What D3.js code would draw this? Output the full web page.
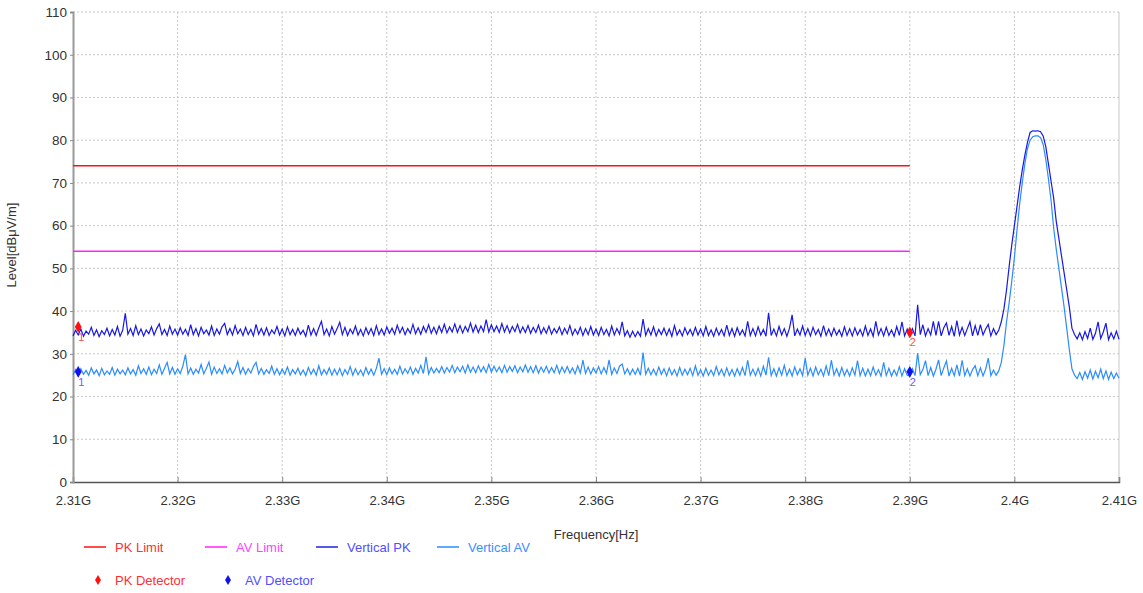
<!DOCTYPE html>
<html>
<head>
<meta charset="utf-8">
<script src="https://cdn.jsdelivr.net/npm/d3@7"></script>
<style>
  body { margin: 0; background: #fff; }
  svg text { font-family: "Liberation Sans", Arial, sans-serif; }
</style>
</head>
<body>
<svg width="1143" height="593"></svg>
<script>
// sweep: 2.31 GHz .. 2.41 GHz, 0.25 MHz per point
var freqStart = 2.31e9, freqStep = 0.25e6;

var xTicks = [2.31e9, 2.32e9, 2.33e9, 2.34e9, 2.35e9, 2.36e9, 2.37e9, 2.38e9, 2.39e9, 2.40e9, 2.41e9];
var xTickLabels = ["2.31G", "2.32G", "2.33G", "2.34G", "2.35G", "2.36G", "2.37G", "2.38G", "2.39G", "2.4G", "2.41G"];
var yTicks = [0, 10, 20, 30, 40, 50, 60, 70, 80, 90, 100, 110];

// limit lines
var pkLimit = [[2.31e9, 74], [2.39e9, 74]];
var avLimit = [[2.31e9, 54], [2.39e9, 54]];

// Vertical PK trace (dBuV/m)
var verticalPK = [
  34.2,35.5,34.4,35.8,34.1,35.3,34.6,36.2,34.3,35.6,34.0,35.4,34.5,36.0,34.2,35.7,34.4,36.4,34.1,35.5,
  39.5,34.6,35.9,34.3,36.6,34.5,35.8,34.2,35.6,34.7,36.3,34.4,35.9,37.0,34.5,35.7,34.3,36.5,34.6,35.8,
  34.4,36.1,34.6,35.7,34.3,36.8,34.5,35.9,34.2,36.2,34.7,35.6,34.4,36.5,34.3,35.8,34.6,36.3,37.1,34.5,
  35.9,34.4,36.6,34.7,35.8,34.3,36.2,34.5,35.7,34.2,36.9,34.6,35.9,34.4,36.1,34.3,35.6,34.7,36.4,34.4,
  35.8,34.2,36.3,34.5,35.7,34.3,36.0,34.6,35.5,34.1,36.7,34.4,35.9,34.3,36.1,37.6,34.5,35.8,34.2,36.4,
  34.6,35.9,37.4,34.5,36.2,34.3,35.8,34.7,36.5,34.4,35.7,34.2,36.1,34.6,35.9,34.3,36.6,34.5,35.8,34.4,
  36.3,34.8,36.0,34.6,36.7,34.9,36.2,34.5,35.9,34.8,36.9,34.7,36.1,34.6,36.4,35.0,36.8,34.8,36.2,34.7,
  36.5,35.0,36.9,34.9,36.3,35.1,37.0,35.0,36.6,34.9,36.4,35.2,37.2,35.1,36.7,35.0,36.5,35.2,38.0,35.1,
  36.8,35.2,36.5,35.0,37.1,35.1,36.6,34.9,36.4,35.2,36.9,34.9,36.3,35.0,36.6,34.8,36.2,35.0,36.7,34.7,
  36.1,34.8,36.5,34.6,35.9,34.9,36.3,34.5,36.0,34.7,36.6,34.4,35.8,34.6,36.2,34.3,35.9,34.5,36.4,34.4,
  35.8,34.3,36.2,34.5,35.7,34.2,36.5,34.4,35.9,34.6,37.5,34.2,35.4,33.9,35.3,34.0,35.2,34.1,38.1,34.3,
  35.9,34.4,36.3,34.2,35.7,34.5,36.0,34.3,35.8,34.1,36.6,34.4,35.6,34.2,36.1,34.5,35.7,34.3,36.2,34.4,
  35.8,34.2,36.4,34.3,35.6,34.1,36.0,34.4,35.7,34.2,36.7,34.3,35.9,34.1,36.1,34.4,35.6,34.2,37.6,34.3,
  35.9,34.2,36.3,34.4,35.7,34.1,39.6,34.3,35.8,34.2,36.4,34.4,35.9,34.1,36.0,39.1,34.2,35.8,34.4,36.5,
  34.3,35.9,34.2,36.2,34.5,35.7,34.1,36.6,34.3,35.8,34.2,36.0,34.4,35.6,34.1,36.3,34.3,35.9,34.2,36.1,
  34.4,35.7,34.2,36.5,34.3,35.8,34.1,37.6,34.4,35.9,34.2,36.2,34.3,35.6,34.1,36.4,34.3,37.5,34.2,35.8,
  34.3,35.9,34.2,41.5,34.5,36.8,34.2,35.9,34.4,37.6,34.3,37.6,34.2,36.1,37.2,34.3,36.4,34.1,37.8,34.4,
  36.2,34.3,35.9,37.5,34.2,36.6,34.3,36.8,34.4,35.8,36.9,34.2,35.9,34.5,
  35.5,37.5,40.5,45.0,50.5,55.5,60.0,64.5,69.0,73.0,76.5,79.5,81.8,82.2,82.1,82.2,82.0,81.0,78.5,74.5,
  70.5,66.5,61.0,57.0,53.0,49.0,45.0,41.0,36.0,34.5,
  33.5,34.9,33.3,35.2,33.6,36.0,33.4,34.8,37.5,33.6,35.1,37.2,33.3,34.9,33.5,35.3,33.4
];

// Vertical AV trace (dBuV/m)
var verticalAV = [
  25.1,26.3,24.9,26.5,25.2,26.1,25.0,26.7,25.3,26.2,24.9,26.6,25.1,26.0,25.2,26.8,25.0,26.4,25.3,26.2,
  25.1,26.7,25.3,26.3,25.0,27.2,25.4,26.5,25.2,26.9,25.1,26.4,25.4,27.4,25.2,26.6,28.0,25.3,26.8,25.2,
  26.5,25.4,27.1,29.8,25.3,26.7,25.2,26.4,25.5,27.5,25.3,26.6,28.1,25.2,26.9,25.4,26.5,25.3,27.3,25.5,
  26.7,25.3,26.4,28.2,25.4,26.8,25.2,26.5,25.5,27.0,28.0,25.3,26.6,25.2,26.3,25.4,27.1,25.2,26.5,25.1,
  26.4,25.2,26.9,25.0,26.3,25.3,26.6,25.1,26.2,24.9,26.8,25.2,26.4,25.0,27.2,25.1,26.3,25.2,26.7,25.0,
  26.4,25.1,26.6,24.9,26.3,25.2,27.0,25.0,26.5,25.1,26.2,24.9,26.8,25.2,26.4,25.0,26.6,29.0,25.2,26.5,
  25.1,26.7,25.3,26.4,25.2,27.1,25.3,26.5,25.4,26.9,25.2,26.6,25.5,27.3,25.4,29.3,25.3,26.8,25.5,26.6,
  25.6,27.0,25.5,26.8,25.7,27.3,25.6,26.9,25.8,27.1,25.5,27.4,25.7,26.9,25.6,27.2,25.8,27.0,25.6,27.5,
  25.7,27.1,25.8,26.9,25.6,27.3,25.7,27.0,25.9,27.2,25.6,26.9,25.8,27.4,25.7,27.0,25.6,27.2,25.5,26.9,
  25.7,27.1,25.5,26.8,25.6,27.3,25.4,26.9,25.6,27.0,25.5,26.7,25.3,27.2,25.5,28.5,25.4,26.9,25.3,26.7,
  25.5,27.0,25.3,26.8,25.4,28.6,25.2,26.7,25.4,27.1,27.6,25.3,26.5,25.1,26.4,25.2,26.6,25.0,30.3,25.2,
  26.6,25.1,26.4,25.0,26.9,25.2,26.5,24.9,26.7,25.1,26.3,24.8,26.8,25.0,26.4,25.1,26.6,24.9,27.2,25.0,
  26.3,24.8,26.6,25.0,26.2,24.9,27.0,25.1,26.4,24.8,26.7,24.9,26.3,24.8,26.5,25.0,26.8,24.9,28.5,25.0,
  26.4,24.9,26.6,24.8,27.1,25.0,29.2,24.9,26.5,24.8,26.7,25.0,27.3,24.9,26.4,24.8,26.9,25.1,26.5,24.9,
  29.0,25.0,26.6,24.8,26.9,25.1,26.4,24.8,27.2,24.9,28.5,25.0,26.5,24.8,26.8,24.9,26.3,24.8,26.7,25.0,
  28.4,24.9,26.6,24.8,26.4,24.9,26.9,25.0,26.3,24.8,28.0,24.9,26.6,24.8,26.2,24.9,27.0,24.8,26.5,25.0,
  24.8,26.5,24.9,30.2,25.1,26.3,28.4,24.9,26.8,24.8,26.4,28.6,24.9,26.7,28.3,24.8,26.6,24.9,27.4,24.8,
  28.5,24.9,26.5,24.8,26.3,27.2,24.9,26.7,24.8,26.4,29.0,24.9,26.2,25.0,
  26.0,28.0,32.0,37.5,42.0,47.0,52.5,59.0,65.0,70.0,74.5,78.0,80.0,80.8,81.0,81.0,80.6,79.0,75.5,71.0,
  66.0,59.5,54.5,50.0,45.5,41.0,36.0,31.0,26.5,25.0,
  24.2,25.6,24.0,25.8,24.3,26.2,24.1,25.9,24.4,26.4,24.2,26.0,24.0,25.7,24.2,25.5,24.3
];

// detector markers
var pkMarkers = [{id: "1", f: 2.3105e9, v: 36.3}, {id: "2", f: 2.39e9, v: 35.0}];
var avMarkers = [{id: "1", f: 2.3105e9, v: 25.8}, {id: "2", f: 2.39e9, v: 25.8}];

var svg = d3.select("svg"),
    margin = {top: 12, left: 73, right: 24, bottom: 111},
    width = +svg.attr("width") - margin.left - margin.right,
    height = +svg.attr("height") - margin.top - margin.bottom;

var x = d3.scaleLinear().domain([2.31e9, 2.41e9]).range([0, width]);
var y = d3.scaleLinear().domain([0, 110]).range([height, 0]);

var g = svg.append("g").attr("transform", "translate(" + margin.left + "," + margin.top + ")");

// grid
g.append("g").selectAll("line")
    .data(yTicks.slice(1))
    .enter().append("line")
    .attr("x1", 0).attr("x2", width)
    .attr("y1", function(d) { return y(d); }).attr("y2", function(d) { return y(d); })
    .attr("stroke", "#c8c8c8").attr("stroke-dasharray", "2,2");
g.append("g").selectAll("line")
    .data(xTicks.slice(1, -1))
    .enter().append("line")
    .attr("x1", function(d) { return x(d); }).attr("x2", function(d) { return x(d); })
    .attr("y1", 0).attr("y2", height)
    .attr("stroke", "#c8c8c8").attr("stroke-dasharray", "2,2");
g.append("line")
    .attr("x1", width).attr("x2", width).attr("y1", 0).attr("y2", height)
    .attr("stroke", "#c8c8c8");

// axes
var xAxis = d3.axisBottom(x).tickValues(xTicks)
    .tickFormat(function(d, i) { return xTickLabels[i]; })
    .tickSize(-5).tickPadding(14);
var yAxis = d3.axisLeft(y).tickValues(yTicks).tickSize(3).tickPadding(3);

var gx = g.append("g").attr("transform", "translate(0," + height + ")").call(xAxis);
gx.select(".domain").attr("stroke", "#555").attr("stroke-width", 1.5);
gx.selectAll(".tick line").attr("stroke", "#888");
gx.selectAll("text").attr("fill", "#333").style("font-size", "13px");

var gy = g.append("g").call(yAxis);
gy.select(".domain").attr("stroke", "#999").attr("stroke-width", 2);
gy.selectAll(".tick line").attr("stroke", "#888");
gy.selectAll("text").attr("fill", "#333").style("font-size", "13.5px");

// axis titles
svg.append("text")
    .attr("transform", "translate(16," + (margin.top + height / 2 - 2) + ") rotate(-90)")
    .attr("text-anchor", "middle")
    .attr("fill", "#333").style("font-size", "13px")
    .text("Level[dBμV/m]");
svg.append("text")
    .attr("x", 596).attr("y", 539)
    .attr("text-anchor", "middle")
    .attr("fill", "#333").style("font-size", "13px")
    .text("Frequency[Hz]");

// lines
var limitLine = d3.line()
    .x(function(d) { return x(d[0]); })
    .y(function(d) { return y(d[1]); });
var traceLine = d3.line()
    .x(function(d, i) { return x(freqStart + i * freqStep); })
    .y(function(d) { return y(d); });

var plot = g.append("g");
plot.append("path").datum(avLimit).attr("d", limitLine)
    .attr("fill", "none").attr("stroke", "#ff22ff").attr("stroke-width", 1.5);
plot.append("path").datum(pkLimit).attr("d", limitLine)
    .attr("fill", "none").attr("stroke", "#ff1010").attr("stroke-width", 1.5);
plot.append("path").datum(verticalAV).attr("d", traceLine)
    .attr("fill", "none").attr("stroke", "#2a8cff").attr("stroke-width", 1.2);
plot.append("path").datum(verticalPK).attr("d", traceLine)
    .attr("fill", "none").attr("stroke", "#1818e6").attr("stroke-width", 1.2);

// markers
var diamond = d3.symbol().type(d3.symbolDiamond).size(40);
function drawMarkers(data, color, labelColor) {
  var m = plot.selectAll(null).data(data).enter().append("g")
      .attr("transform", function(d) { return "translate(" + x(d.f) + "," + y(d.v) + ")"; });
  m.append("path").attr("d", diamond).attr("fill", color);
  m.append("text").attr("x", 0).attr("y", 14)
      .attr("fill", labelColor).style("font-size", "11px")
      .text(function(d) { return d.id; });
}
drawMarkers(pkMarkers, "#ff1010", "#ff5050");
drawMarkers(avMarkers, "#1010f0", "#6a5cff");

// legend
var legendLines = [
  {name: "PK Limit", color: "#ff1010", text: "#ff3030", x: 84},
  {name: "AV Limit", color: "#ff22ff", text: "#ff44ff", x: 205},
  {name: "Vertical PK", color: "#2020e0", text: "#5050ff", x: 316},
  {name: "Vertical AV", color: "#2a8cff", text: "#3a90ff", x: 437}
];
var legendDots = [
  {name: "PK Detector", color: "#ff1010", text: "#ff3030", x: 98},
  {name: "AV Detector", color: "#1010f0", text: "#5050ff", x: 228}
];

var leg = svg.append("g");
var l1 = leg.selectAll(null).data(legendLines).enter().append("g")
    .attr("transform", function(d) { return "translate(" + d.x + ",547)"; });
l1.append("line").attr("x1", 0).attr("x2", 22)
    .attr("stroke", function(d) { return d.color; }).attr("stroke-width", 1.5);
l1.append("text").attr("x", 31).attr("y", 5)
    .attr("fill", function(d) { return d.text; }).style("font-size", "13px")
    .text(function(d) { return d.name; });

var l2 = leg.selectAll(null).data(legendDots).enter().append("g")
    .attr("transform", function(d) { return "translate(" + d.x + ",580)"; });
l2.append("path").attr("d", d3.symbol().type(d3.symbolDiamond).size(30))
    .attr("fill", function(d) { return d.color; });
l2.append("text").attr("x", 17).attr("y", 5)
    .attr("fill", function(d) { return d.text; }).style("font-size", "13px")
    .text(function(d) { return d.name; });
</script>
</body>
</html>
